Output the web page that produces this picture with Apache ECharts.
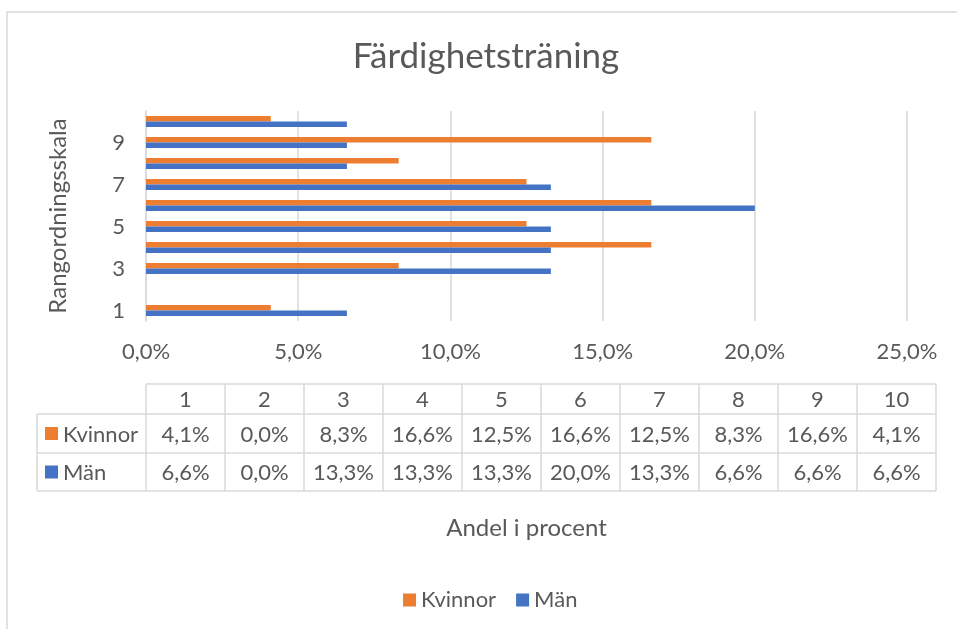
<!DOCTYPE html>
<html>
	<head>
		<meta charset="UTF-8">
		<title>Färdighetsträning</title>
		<script type="text/javascript" src="https://cdn.jsdelivr.net/npm/echarts@6/dist/echarts.min.js"></script>
		<style>
			body { margin: 0; background: #fff; }
			#chart { width: 957px; height: 629px; }
		</style>
	</head>
	<body>
		<div id="chart"></div>
		<script>
			// data
			var categories = ["1", "2", "3", "4", "5", "6", "7", "8", "9", "10"];
			var kvinnor = [4.1, 0.0, 8.3, 16.6, 12.5, 16.6, 12.5, 8.3, 16.6, 4.1];
			var man = [6.6, 0.0, 13.3, 13.3, 13.3, 20.0, 13.3, 6.6, 6.6, 6.6];
			var seriesNames = ["Kvinnor", "Män"];
			var seriesColors = ["#ED7D31", "#4472C4"];

			var textColor = "#595959";
			var lineColor = "#d9d9d9";
			var font = "Lato, 'Open Sans', sans-serif";

			function pct(v) {
				return v.toFixed(1).replace(".", ",") + "%";
			}

			// data table under the plot
			function buildTable() {
				var els = [];
				var x0 = 146, colW = 79, labelX = 37;
				var rowsY = [384, 414, 453, 491];
				var right = x0 + colW * categories.length;

				els.push({ type: "line", shape: { x1: x0, y1: rowsY[0], x2: right, y2: rowsY[0] }, style: { stroke: lineColor, lineWidth: 1.5 } });
				for (var r = 1; r < rowsY.length; r++) {
					els.push({ type: "line", shape: { x1: labelX, y1: rowsY[r], x2: right, y2: rowsY[r] }, style: { stroke: lineColor, lineWidth: 1.5 } });
				}
				els.push({ type: "line", shape: { x1: labelX, y1: rowsY[1], x2: labelX, y2: rowsY[3] }, style: { stroke: lineColor, lineWidth: 1.5 } });
				for (var c = 0; c <= categories.length; c++) {
					els.push({ type: "line", shape: { x1: x0 + c * colW, y1: rowsY[0], x2: x0 + c * colW, y2: rowsY[3] }, style: { stroke: lineColor, lineWidth: 1.5 } });
				}

				var rows = [kvinnor, man];
				for (var i = 0; i < categories.length; i++) {
					var cx = x0 + i * colW + colW / 2;
					els.push({ type: "text", x: cx, y: (rowsY[0] + rowsY[1]) / 2 + 1,
						style: { text: categories[i], fill: textColor, font: "22px " + font, align: "center", verticalAlign: "middle" } });
					for (var s = 0; s < rows.length; s++) {
						els.push({ type: "text", x: cx, y: (rowsY[s + 1] + rowsY[s + 2]) / 2 + 1,
							style: { text: pct(rows[s][i]), fill: textColor, font: "22px " + font, align: "center", verticalAlign: "middle" } });
					}
				}
				for (var s = 0; s < seriesNames.length; s++) {
					var cy = (rowsY[s + 1] + rowsY[s + 2]) / 2;
					els.push({ type: "rect", shape: { x: 45, y: cy - 6.5, width: 13, height: 13 }, style: { fill: seriesColors[s] } });
					els.push({ type: "text", x: 63, y: cy + 1,
						style: { text: seriesNames[s], fill: textColor, font: "22px " + font, align: "left", verticalAlign: "middle" } });
				}
				// chart border
				els.push({ type: "rect", shape: { x: 7, y: 12, width: 980, height: 660 }, style: { fill: null, stroke: lineColor, lineWidth: 1.5 }, z: -1 });
				return els;
			}

			var option = {
				animation: false,
				textStyle: { fontFamily: font },
				title: {
					text: "Färdighetsträning",
					left: 481,
					textAlign: "center",
					top: 34,
					textStyle: { color: textColor, fontSize: 35, fontWeight: "normal", fontFamily: font }
				},
				legend: {
					data: seriesNames,
					left: 398,
					top: 584,
					icon: "rect",
					itemWidth: 13,
					itemHeight: 13,
					itemGap: 20,
					textStyle: { color: textColor, fontSize: 22, fontFamily: font }
				},
				grid: { left: 146, right: 50, top: 111, height: 210 },
				xAxis: {
					type: "value",
					min: 0,
					max: 25,
					interval: 5,
					name: "Andel i procent",
					nameLocation: "middle",
					nameGap: 195,
					nameTextStyle: { color: textColor, fontSize: 24, fontFamily: font },
					axisLine: { show: false },
					axisTick: { show: false },
					axisLabel: { color: textColor, fontSize: 22, margin: 20, formatter: pct },
					splitLine: { lineStyle: { color: lineColor, width: 1.5 } }
				},
				yAxis: {
					type: "category",
					data: categories,
					name: "Rangordningsskala",
					nameLocation: "middle",
					nameRotate: 90,
					nameGap: 76,
					nameTextStyle: { color: textColor, fontSize: 24, fontFamily: font },
					axisLine: { lineStyle: { color: lineColor, width: 1.5 } },
					axisTick: { show: false },
					axisLabel: { color: textColor, fontSize: 22, margin: 21, interval: 1 }
				},
				series: [
					{ name: seriesNames[0], type: "bar", data: kvinnor, barWidth: 5.5, barGap: "0%", itemStyle: { color: seriesColors[0] } },
					{ name: seriesNames[1], type: "bar", data: man, barWidth: 5.5, barGap: "0%", itemStyle: { color: seriesColors[1] } }
				],
				graphic: buildTable()
			};

			var chart = echarts.init(document.getElementById("chart"));
			chart.setOption(option);
		</script>
	</body>
</html>
